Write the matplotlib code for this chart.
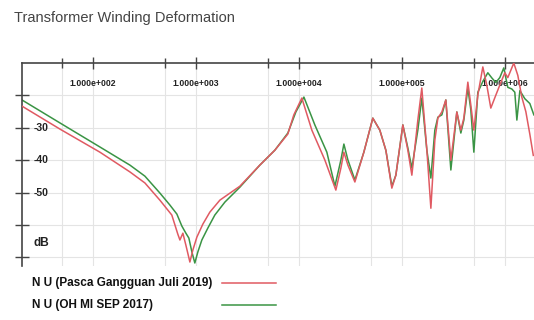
import matplotlib
matplotlib.use("Agg")
import matplotlib.pyplot as plt
from matplotlib.lines import Line2D
from matplotlib.ticker import FixedLocator, NullFormatter

plt.rcParams['font.family'] = ['Liberation Sans', 'DejaVu Sans']

# frequency response traces (Hz, dB)
freq_2017 = [20.5, 48, 117, 229, 320, 447, 559, 654, 731, 800, 855, 915, 977, 1045, 1143,
             1308, 1528, 1914, 2675, 4178, 5845, 7817, 9354, 11194, 14300, 18700,
             22390, 25600, 27370, 29940, 35000, 42780, 52270, 61120, 69940, 79980,
             87490, 102300, 114400, 125100, 143000, 156300, 175000, 191400, 209100,
             223800, 244600, 267400, 299200, 342000, 374100, 400000, 437500, 467800,
             500300, 547000, 611500, 683900, 748000, 818000, 893800, 977000, 1069000,
             1169000, 1250000, 1309000, 1400000, 1564000, 1750000, 1914000]
db_2017 = [-21.4, -28.5, -35.9, -41.5, -44.9, -50.1, -53.8, -56.6, -60.3, -62.5, -64.0, -68.3,
           -71.7, -68.3, -64.6, -60.9, -56.9, -52.9, -48.3, -41.5, -36.9, -31.6, -25.1,
           -20.5, -29.1, -37.5, -48.0, -39.9, -35.0, -39.9, -46.1, -37.5, -27.0, -30.7,
           -36.9, -48.0, -44.6, -29.1, -36.2, -42.4, -30.7, -20.8, -36.9, -45.5, -30.7,
           -26.7, -26.0, -21.4, -43.0, -25.1, -31.6, -27.6, -17.7, -24.5, -37.5, -19.0,
           -15.7, -13.0, -14.6, -16.0, -14.5, -11.5, -17.5, -18.0, -19.0, -27.6, -18.5,
           -21.0, -22.5, -26.0]

freq_2019 = [20.5, 48, 117, 229, 320, 447, 584, 668, 700, 748, 800, 875, 935, 1023,
             1169, 1367, 1711, 2675, 4178, 5845, 7817, 8933, 10690, 13370, 17870,
             22870, 25600, 27370, 29940, 35000, 42780, 52270, 61120, 69940, 79980,
             87490, 102300, 114400, 125100, 143000, 156300, 175000, 191400, 209100,
             223800, 244600, 267400, 299200, 342000, 374100, 400000, 437500, 467800,
             500300, 547000, 611500, 668000, 731000, 818000, 893800, 1000000, 1069000,
             1222000, 1337000, 1462000, 1600000, 1750000, 1890000]
db_2019 = [-23.3, -30.4, -37.5, -43.6, -47.0, -52.3, -56.9, -62.8, -64.6, -62.5, -66.2,
           -71.4, -67.7, -63.7, -59.7, -56.0, -52.3, -48.0, -41.5, -36.9, -31.9, -26.0,
           -20.8, -30.7, -39.9, -49.2, -42.4, -37.5, -41.5, -46.7, -37.5, -27.0, -30.7,
           -36.9, -48.6, -44.6, -29.1, -36.9, -44.6, -27.6, -17.7, -36.9, -54.8, -33.8,
           -27.0, -25.1, -21.4, -40.0, -25.1, -30.7, -27.0, -15.9, -23.0, -30.7, -19.9,
           -11.2, -16.8, -23.9, -19.9, -16.8, -13.0, -14.5, -10.0, -13.8, -20.5, -25.0,
           -32.0, -38.5]

label_2019 = "N U (Pasca Gangguan Juli 2019)"
label_2017 = "N U (OH MI SEP 2017)"

major_x = [1e2, 1e3, 1e4, 1e5, 1e6]
minor_x = [50, 500, 5000, 50000, 500000]
y_ticks = [-20, -30, -40, -50, -60, -70]
y_labels = {-30: "-30", -40: "-40", -50: "-50", -65.5: "dB"}

fig = plt.figure(figsize=(5.34, 3.2), dpi=100)
ax = fig.add_axes([0.0412, 0.170, 0.9588, 0.633])

ax.plot(freq_2019, db_2019, color='#e05a62', lw=1.1, zorder=3)
ax.plot(freq_2017, db_2017, color='#3a9444', lw=1.1, zorder=2)

ax.set_xscale('log')
ax.set_xlim(20.5, 1.92e6)
ax.set_ylim(-72.5, -10)

ax.xaxis.set_major_locator(FixedLocator(major_x))
ax.xaxis.set_minor_locator(FixedLocator(minor_x))
ax.xaxis.set_major_formatter(NullFormatter())
ax.xaxis.set_minor_formatter(NullFormatter())
ax.xaxis.tick_top()
ax.tick_params(axis='x', which='major', direction='inout', length=9, width=1, color='#444')
ax.tick_params(axis='x', which='minor', direction='inout', length=7, width=1, color='#444')

ax.set_yticks(y_ticks)
ax.set_yticklabels([])
ax.tick_params(axis='y', direction='inout', length=10, width=1, color='#444')

ax.grid(True, which='both', color='#e4e4e4', lw=0.8, zorder=0)
ax.set_axisbelow(True)

for side in ['right', 'bottom']:
    ax.spines[side].set_visible(False)
for side in ['top', 'left']:
    ax.spines[side].set_color('#444')
    ax.spines[side].set_linewidth(1.2)

# tick labels written inside the plot area
for f in major_x:
    ax.text(f, -16.2, f"{f:.3e}".replace("e+0", "e+00"), ha='center', va='center',
            fontsize=6.3, fontweight='bold', color='#222', zorder=1)
for y, s in y_labels.items():
    ax.text(0.022, y, s, transform=ax.get_yaxis_transform(), ha='left', va='center',
            fontsize=7.5 if s != "dB" else 8.5, fontweight='bold', color='#222')

fig.text(0.026, 0.943, "Transformer Winding Deformation", fontsize=10.5,
         color='#444', ha='left', va='center')

# legend: label on the left, line sample on the right
for yf, text, col in [(0.116, label_2019, '#e05a62'), (0.047, label_2017, '#3a9444')]:
    fig.text(0.060, yf, text, fontsize=8.5, fontweight='bold', color='#111',
             ha='left', va='center')
    fig.add_artist(Line2D([0.416, 0.517], [yf, yf], color=col, lw=1.1))

fig.savefig("out.png", dpi=100)
